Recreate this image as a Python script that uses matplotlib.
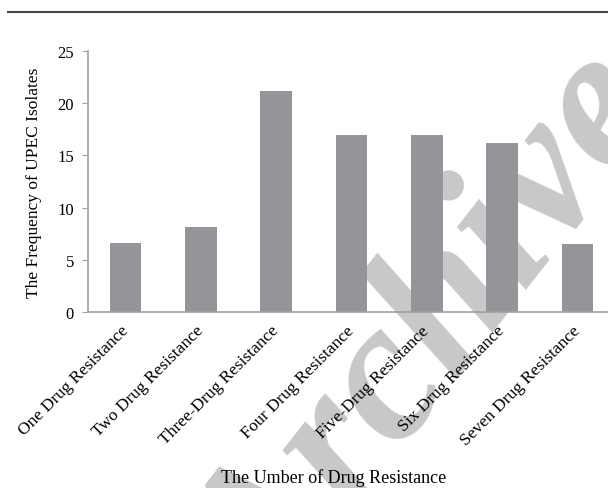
import matplotlib
matplotlib.use("Agg")
import matplotlib.pyplot as plt
from matplotlib.lines import Line2D

categories = ["One Drug Resistance", "Two Drug Resistance", "Three-Drug Resistance",
              "Four Drug Resistance", "Five-Drug Resistance", "Six Drug Resistance",
              "Seven Drug Resistance"]
frequency = [6.6, 8.15, 21.15, 17.0, 17.0, 16.2, 6.5]
y_ticks = [0, 5, 10, 15, 20, 25]

plt.rcParams['font.family'] = ['Liberation Serif', 'DejaVu Serif']

fig = plt.figure(figsize=(6.08, 4.89), dpi=100)
ax = fig.add_axes([0.1447, 0.359, 0.867, 0.535])

# top rule of the page
fig.add_artist(Line2D([0.013, 1.0], [0.974, 0.974], color="#444444", lw=1.5))

# watermark
fig.text(0.715, 0.30, "Archive", fontsize=145, fontstyle="italic", fontweight="bold",
         color="#c8c8c8", rotation=52, ha="center", va="center", zorder=0)
ax.set_zorder(1)
ax.patch.set_visible(False)

x = range(len(categories))
ax.bar(x, frequency, width=0.42, color="#939598", zorder=2)

ax.set_xlim(-0.5, len(categories) - 0.5)
ax.set_ylim(0, 25)
ax.set_yticks(y_ticks)
ax.set_yticklabels([str(t) for t in y_ticks], fontsize=12)
ax.set_xticks(list(x))
ax.set_xticklabels(categories, rotation=45, ha="right", va="center",
                   rotation_mode="anchor", fontsize=12.5)
ax.tick_params(axis="x", length=0, pad=11)
ax.tick_params(axis="y", length=4, color="#a0a0a0", pad=6)

for s in ["top", "right"]:
    ax.spines[s].set_visible(False)
for s in ["left", "bottom"]:
    ax.spines[s].set_color("#a0a0a0")
    ax.spines[s].set_linewidth(1.2)

ax.set_ylabel("The Frequency of UPEC Isolates", fontsize=12.5, labelpad=11)
fig.text(0.548, 0.004, "The Umber of Drug Resistance", fontsize=13, ha="center", va="bottom")

fig.savefig("out.png", dpi=100)
